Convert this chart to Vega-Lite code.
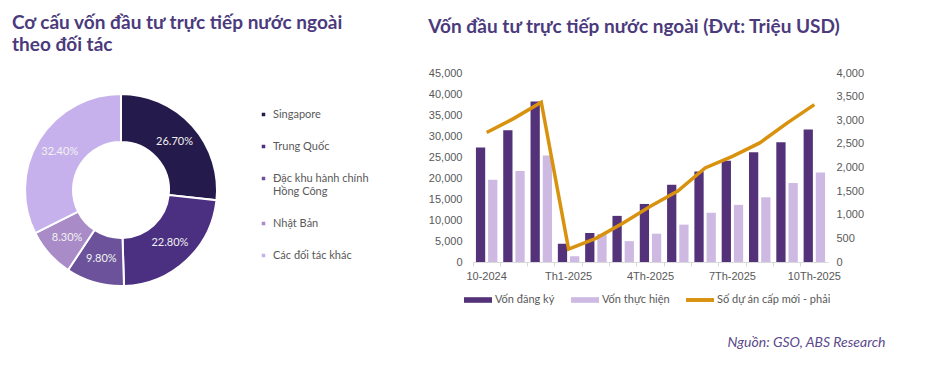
{
  "$schema": "https://vega.github.io/schema/vega-lite/v6.json",
  "background": "white",
  "padding": {"left": 0, "top": 14, "right": 0, "bottom": 0},
  "autosize": {"type": "pad"},
  "config": {"view": {"stroke": null}, "font": "Lato"},
  "title": {"text": "Nguồn: GSO, ABS Research", "orient": "bottom", "anchor": "end", "font": "Lato", "fontSize": 14, "fontStyle": "italic", "fontWeight": "normal", "color": "#5b4a8b", "offset": 29, "dx": 22},
  "datasets": {
    "doi_tac": [
      {"doi_tac": "Singapore", "ty_trong": 0.267, "thu_tu": 1},
      {"doi_tac": "Trung Quốc", "ty_trong": 0.228, "thu_tu": 2},
      {"doi_tac": "Đặc khu hành chính Hồng Công", "ty_trong": 0.098, "thu_tu": 3},
      {"doi_tac": "Nhật Bản", "ty_trong": 0.083, "thu_tu": 4},
      {"doi_tac": "Các đối tác khác", "ty_trong": 0.324, "thu_tu": 5}
    ],
    "von": [
      {"thang": "10-2024", "loai": "Vốn đăng ký", "gia_tri": 27260},
      {"thang": "10-2024", "loai": "Vốn thực hiện", "gia_tri": 19580},
      {"thang": "11-2024", "loai": "Vốn đăng ký", "gia_tri": 31380},
      {"thang": "11-2024", "loai": "Vốn thực hiện", "gia_tri": 21680},
      {"thang": "12-2024", "loai": "Vốn đăng ký", "gia_tri": 38230},
      {"thang": "12-2024", "loai": "Vốn thực hiện", "gia_tri": 25350},
      {"thang": "Th1-2025", "loai": "Vốn đăng ký", "gia_tri": 4330},
      {"thang": "Th1-2025", "loai": "Vốn thực hiện", "gia_tri": 1350},
      {"thang": "Th2-2025", "loai": "Vốn đăng ký", "gia_tri": 6900},
      {"thang": "Th2-2025", "loai": "Vốn thực hiện", "gia_tri": 6650},
      {"thang": "Th3-2025", "loai": "Vốn đăng ký", "gia_tri": 10980},
      {"thang": "Th3-2025", "loai": "Vốn thực hiện", "gia_tri": 4960},
      {"thang": "4Th-2025", "loai": "Vốn đăng ký", "gia_tri": 13820},
      {"thang": "4Th-2025", "loai": "Vốn thực hiện", "gia_tri": 6740},
      {"thang": "5Th-2025", "loai": "Vốn đăng ký", "gia_tri": 18390},
      {"thang": "5Th-2025", "loai": "Vốn thực hiện", "gia_tri": 8900},
      {"thang": "6Th-2025", "loai": "Vốn đăng ký", "gia_tri": 21520},
      {"thang": "6Th-2025", "loai": "Vốn thực hiện", "gia_tri": 11720},
      {"thang": "7Th-2025", "loai": "Vốn đăng ký", "gia_tri": 24090},
      {"thang": "7Th-2025", "loai": "Vốn thực hiện", "gia_tri": 13600},
      {"thang": "8Th-2025", "loai": "Vốn đăng ký", "gia_tri": 26140},
      {"thang": "8Th-2025", "loai": "Vốn thực hiện", "gia_tri": 15400},
      {"thang": "9Th-2025", "loai": "Vốn đăng ký", "gia_tri": 28540},
      {"thang": "9Th-2025", "loai": "Vốn thực hiện", "gia_tri": 18800},
      {"thang": "10Th-2025", "loai": "Vốn đăng ký", "gia_tri": 31520},
      {"thang": "10Th-2025", "loai": "Vốn thực hiện", "gia_tri": 21300}
    ],
    "du_an": [
      {"thang": "10-2024", "so_du_an": 2740},
      {"thang": "11-2024", "so_du_an": 3040},
      {"thang": "12-2024", "so_du_an": 3380},
      {"thang": "Th1-2025", "so_du_an": 275},
      {"thang": "Th2-2025", "so_du_an": 500},
      {"thang": "Th3-2025", "so_du_an": 825},
      {"thang": "4Th-2025", "so_du_an": 1180},
      {"thang": "5Th-2025", "so_du_an": 1500},
      {"thang": "6Th-2025", "so_du_an": 1990},
      {"thang": "7Th-2025", "so_du_an": 2235},
      {"thang": "8Th-2025", "so_du_an": 2520},
      {"thang": "9Th-2025", "so_du_an": 2940},
      {"thang": "10Th-2025", "so_du_an": 3330}
    ]
  },
  "bounds": "flush",
  "spacing": 231,
  "resolve": {"scale": {"color": "independent"}, "legend": {"color": "independent"}},
  "hconcat": [
    {
      "width": 242,
      "height": 234,
      "title": {"text": ["Cơ cấu vốn đầu tư trực tiếp nước ngoài", "theo đối tác"], "anchor": "start", "frame": "group", "dx": 12, "font": "Lato", "fontSize": 19, "fontWeight": "bold", "color": "#4b3a7c", "lineHeight": 22, "offset": 18},
      "data": {"name": "doi_tac"},
      "encoding": {
        "theta": {"field": "ty_trong", "type": "quantitative", "stack": true},
        "order": {"field": "thu_tu", "type": "quantitative"}
      },
      "layer": [
        {
          "mark": {"type": "arc", "outerRadius": 96, "innerRadius": 48, "stroke": "white", "strokeWidth": 2},
          "encoding": {
            "color": {
              "field": "doi_tac", "type": "nominal",
              "scale": {"domain": ["Singapore", "Trung Quốc", "Đặc khu hành chính Hồng Công", "Nhật Bản", "Các đối tác khác"], "range": ["#241a4b", "#4b2f80", "#6b529a", "#a98bc8", "#c7b1ec"]},
              "legend": {"orient": "none", "legendX": 258, "legendY": 36, "title": null, "symbolType": "square", "symbolSize": 25, "labelFont": "Lato", "labelFontSize": 11, "labelColor": "#595959", "rowPadding": 20, "labelLimit": 0, "labelExpr": "datum.label == 'Đặc khu hành chính Hồng Công' ? ['Đặc khu hành chính', 'Hồng Công'] : datum.label"}
            }
          }
        },
        {
          "mark": {"type": "text", "radius": 72, "fontSize": 11, "font": "Lato", "color": "#f2f2f2"},
          "encoding": {"text": {"field": "ty_trong", "type": "quantitative", "format": ".2%"}}
        }
      ]
    },
    {
      "width": 355,
      "height": 189,
      "title": {"text": "Vốn đầu tư trực tiếp nước ngoài (Đvt: Triệu USD)", "anchor": "start", "frame": "bounds", "font": "Lato", "fontSize": 19, "fontWeight": "bold", "color": "#4b3a7c", "offset": 30},
      "encoding": {
        "x": {
          "field": "thang", "type": "ordinal",
          "scale": {"domain": ["10-2024", "11-2024", "12-2024", "Th1-2025", "Th2-2025", "Th3-2025", "4Th-2025", "5Th-2025", "6Th-2025", "7Th-2025", "8Th-2025", "9Th-2025", "10Th-2025"], "paddingInner": 0, "paddingOuter": 0},
          "axis": {"title": null, "labelAngle": 0, "bandPosition": 0, "labelExpr": "indexof(['10-2024','Th1-2025','4Th-2025','7Th-2025','10Th-2025'], datum.value) >= 0 ? datum.value : ''", "tickSize": 4, "tickColor": "#d9d9d9", "domainColor": "#d9d9d9", "labelFont": "Liberation Sans", "labelFontSize": 11, "labelColor": "#595959", "labelPadding": 4, "labelOverlap": false}
        }
      },
      "layer": [
        {
          "data": {"name": "von"},
          "mark": {"type": "bar"},
          "encoding": {
            "xOffset": {"field": "loai", "type": "nominal", "sort": ["Vốn đăng ký", "Vốn thực hiện"], "scale": {"paddingInner": 0.24, "paddingOuter": 0.24}},
            "y": {"field": "gia_tri", "type": "quantitative", "scale": {"domain": [0, 45000]}, "axis": {"title": null, "values": [0, 5000, 10000, 15000, 20000, 25000, 30000, 35000, 40000, 45000], "format": ",.0f", "grid": false, "domain": false, "ticks": false, "labelPadding": 11, "labelFont": "Liberation Sans", "labelFontSize": 11, "labelColor": "#595959"}},
            "color": {
              "field": "loai", "type": "nominal",
              "scale": {"domain": ["Vốn đăng ký", "Vốn thực hiện", "Số dự án cấp mới - phải"], "range": ["#533279", "#cdb9e2", "#d8920e"]},
              "legend": {"orient": "none", "legendX": -9, "legendY": 213, "direction": "horizontal", "columns": 3, "title": null, "symbolType": "M-1,-0.2H1V0.2H-1Z", "symbolSize": 784, "labelFont": "Lato", "labelFontSize": 11, "labelColor": "#595959", "columnPadding": 16, "labelOffset": 3, "labelLimit": 0,
                "encode": {"symbols": {"update": {"fill": {"scale": "color", "field": "value"}, "strokeWidth": {"value": 0}, "shape": {"signal": "datum.value === 'Số dự án cấp mới - phải' ? 'M-1,-0.14H1V0.14H-1Z' : 'M-1,-0.2H1V0.2H-1Z'"}}}}}
            }
          }
        },
        {
          "data": {"name": "du_an"},
          "mark": {"type": "line", "strokeWidth": 3.5},
          "encoding": {
            "y": {"field": "so_du_an", "type": "quantitative", "scale": {"domain": [0, 4000]}, "axis": {"orient": "right", "title": null, "values": [0, 500, 1000, 1500, 2000, 2500, 3000, 3500, 4000], "format": ",.0f", "grid": false, "domain": false, "ticks": false, "labelPadding": 8, "labelFont": "Liberation Sans", "labelFontSize": 11, "labelColor": "#595959"}},
            "color": {"datum": "Số dự án cấp mới - phải"}
          }
        }
      ],
      "resolve": {"scale": {"y": "independent"}}
    }
  ]
}
